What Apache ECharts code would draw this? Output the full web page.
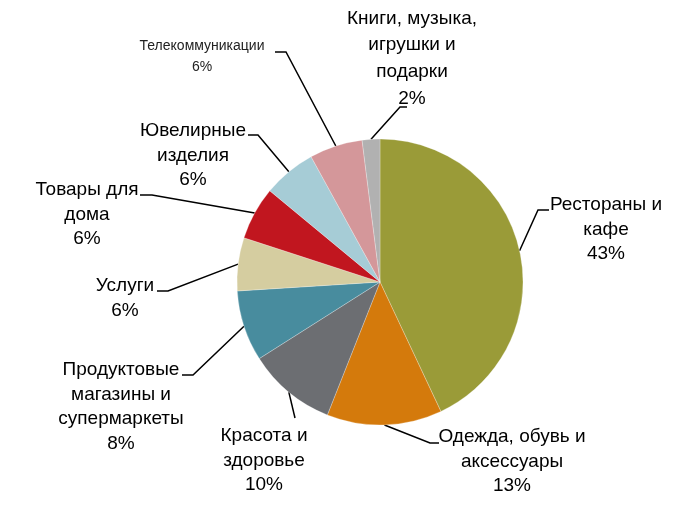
<!DOCTYPE html>
<html><head><meta charset="utf-8">
<script src="https://cdn.jsdelivr.net/npm/echarts@6/dist/echarts.min.js"></script>
<style>html,body{margin:0;padding:0;background:#fff}#c{width:696px;height:515px}</style>
</head><body><div id="c"></div>
<script>
const categories = [
  'Рестораны и\nкафе',
  'Одежда, обувь и\nаксессуары',
  'Красота и\nздоровье',
  'Продуктовые\nмагазины и\nсупермаркеты',
  'Услуги',
  'Товары для\nдома',
  'Ювелирные\nизделия',
  'Телекоммуникации',
  'Книги, музыка,\nигрушки и\nподарки'
];
const values = [43, 13, 10, 8, 6, 6, 6, 6, 2];
const colors = ['#9A9B38', '#D47A0C', '#6C6E72', '#488C9E', '#D5CDA0', '#C1161F', '#A6CCD6', '#D4979A', '#B1B1B1'];

// label placement (style): text centre x, top y, line height, elbow point, stub end
const labelPos = [
  {x: 606, y: 193, lh: 24.5, elbow: [538, 210], end: [549, 210]},
  {x: 512, y: 425, lh: 24.5, elbow: [430, 443], end: [439, 443]},
  {x: 264, y: 424, lh: 24.5, elbow: [295, 418], end: null},
  {x: 121, y: 358, lh: 24.5, elbow: [193, 375], end: [182, 375]},
  {x: 125, y: 274, lh: 24.5, elbow: [168, 291], end: [157, 291]},
  {x: 87,  y: 178, lh: 24.5, elbow: [152, 195], end: [140, 195]},
  {x: 193, y: 119, lh: 24.5, elbow: [258, 135], end: [248, 135]},
  {x: 202, y: 36,  lh: 21,   elbow: [286, 52],  end: [275, 52]},
  {x: 412, y: 5,   lh: 26.8, elbow: [400, 107], end: [407, 107]}
];

const FONT = "'Liberation Sans Narrow', 'Arial Narrow', 'Liberation Sans', Arial, sans-serif";

const data = categories.map((n, i) => {
  const d = {name: n, value: values[i], itemStyle: {color: colors[i]},
    label: {lineHeight: labelPos[i].lh}};
  if (i === 7) {
    d.label = {fontFamily: "'Liberation Sans', Arial, sans-serif", fontSize: 14, lineHeight: 21, color: '#222'};
  }
  return d;
});

const chart = echarts.init(document.getElementById('c'), null, {renderer: 'canvas'});
chart.setOption({
  animation: false,
  backgroundColor: '#fff',
  series: [{
    type: 'pie',
    center: [380, 282],
    radius: 143,
    startAngle: 90,
    clockwise: true,
    data: data,
    itemStyle: {borderColor: 'rgba(255,255,255,0.5)', borderWidth: 0.5},
    label: {
      show: true,
      formatter: '{b}\n{c}%',
      fontFamily: FONT,
      fontSize: 19,
      color: '#000',
      align: 'center'
    },
    labelLine: {show: true, length: 10, length2: 10, lineStyle: {color: '#000', width: 1.5}},
    labelLayout: function (params) {
      const p = labelPos[params.dataIndex];
      const pts = params.labelLinePoints;
      const start = pts && pts[0] ? pts[0] : p.elbow;
      const line = [start, p.elbow];
      if (p.end) line.push(p.end); else line.push(p.elbow);
      return {x: p.x, y: p.y, align: 'center', verticalAlign: 'top', labelLinePoints: line, hideOverlap: false, moveOverlap: null};
    }
  }]
});
</script></body></html>
